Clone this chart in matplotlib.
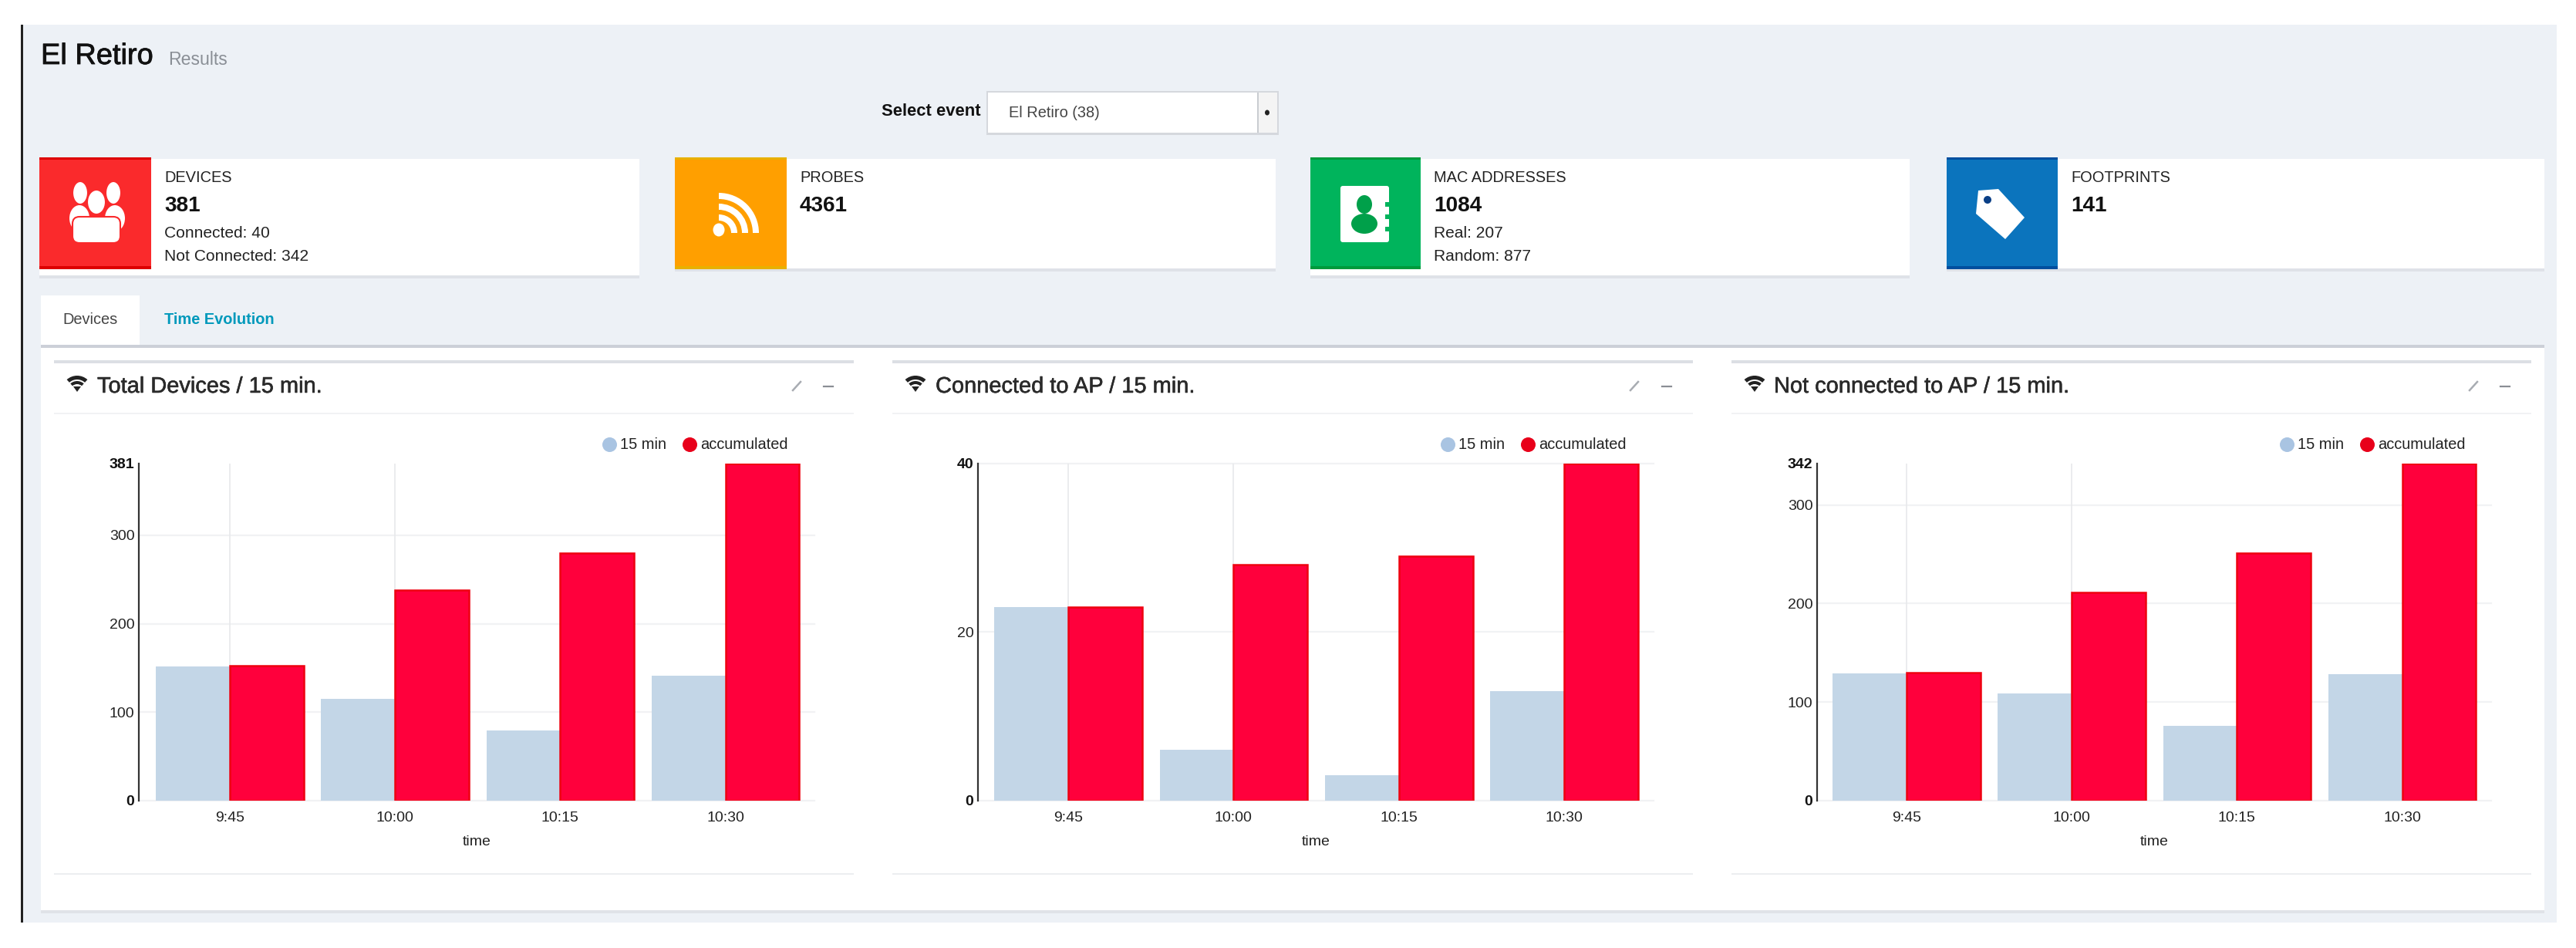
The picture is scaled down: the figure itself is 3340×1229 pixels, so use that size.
#!/usr/bin/env python3
import matplotlib
matplotlib.use("Agg")
import matplotlib.pyplot as plt
import matplotlib.patheffects as pe
from matplotlib.lines import Line2D
from matplotlib.patches import Rectangle, Ellipse, Wedge, Polygon, FancyBboxPatch

plt.rcParams["font.family"] = ["Liberation Sans", "DejaVu Sans"]

W, H, DPI = 3340, 1229, 100

# values
times = ["9:45", "10:00", "10:15", "10:30"]
total_15min = [152, 115, 79, 141]
total_accum = [153, 238, 280, 381]
connected_15min = [23, 6, 3, 13]
connected_accum = [23, 28, 29, 40]
notconn_15min = [129, 109, 76, 128]
notconn_accum = [130, 211, 251, 342]

total_ticks = [0, 100, 200, 300, 381]
connected_ticks = [0, 20, 40]
notconn_ticks = [0, 100, 200, 300, 342]

BG = "#edf1f6"
BLUE = "#c3d6e7"
RED = "#ff003c"
RED_EDGE = "#ee0010"
TXT = "#222222"


def pt(px_size):
    return px_size * 72 / DPI


fig = plt.figure(figsize=(W / DPI, H / DPI), dpi=DPI, facecolor="white")

# page furniture is drawn in pixel coordinates on a background axes
bg = fig.add_axes([0, 0, 1, 1], zorder=0)
bg.set_xlim(0, W)
bg.set_ylim(H, 0)
bg.axis("off")


def box(x0, y0, x1, y1, color, z=1):
    bg.add_patch(Rectangle((x0, y0), x1 - x0, y1 - y0, fc=color, ec="none", zorder=z))


def label(x, y, s, size, heavy=0, **kw):
    kw.setdefault("color", TXT)
    kw.setdefault("va", "center")
    kw.setdefault("ha", "left")
    t = bg.text(x, y, s, fontsize=pt(size), zorder=6, **kw)
    if heavy:
        # the screenshot is soft and its type looks heavier than the plain face
        t.set_path_effects([pe.withStroke(linewidth=heavy, foreground=kw["color"])])
    return t


box(30, 32, 3315, 1196, BG)
box(27, 32, 30, 1196, "#222222")

label(53, 73, "El Retiro", 38, heavy=0.6, color="#111111")
label(218, 77, "Results", 23, color="#8a8f96")

label(1143, 145, "Select event", 22, fontweight="bold", color="#111111")
box(1279, 118, 1658, 175, "#d5d8dd")
box(1281, 120, 1656, 172, "white", z=2)
box(1630, 120, 1656, 172, "#f4f4f4", z=3)
box(1630, 120, 1632, 172, "#c9ccd1", z=3)
bg.add_patch(Ellipse((1643, 146), 6, 7, fc="#222222", ec="none", zorder=4))
label(1308, 146, "El Retiro (38)", 20, color="#444444")

# stat cards: x0, icon x1, x1, bottom, colour, edge, texts
cards = [
    (51, 196, 829, 357, "#fa2a2c", "#dd0000", "DEVICES", "381", ["Connected: 40", "Not Connected: 342"]),
    (875, 1020, 1654, 348, "#ff9f00", "#e8b000", "PROBES", "4361", []),
    (1699, 1842, 2476, 357, "#00b45c", "#009a3c", "MAC ADDRESSES", "1084", ["Real: 207", "Random: 877"]),
    (2524, 2668, 3299, 348, "#0b74bd", "#004f9f", "FOOTPRINTS", "141", []),
]
for x0, xi, x1, yb, col, edge, name, big, extra in cards:
    box(x0, yb, x1, yb + 4, "#dfe2e8")
    box(x0, 206, x1, yb, "white", z=2)
    box(x0, 206, xi, 348, col, z=3)
    box(x0, 345, xi, 349, edge, z=3)
    box(x0, 204, xi, 207, edge, z=3)
    label(xi + 17, 230, name, 20, color="#222222")
    label(xi + 17, 267, big, 28, fontweight="bold", color="#111111")
    for row, s in zip((303, 332), extra):
        label(xi + 17, row, s, 21, color="#222222")

# group icon
for cx, cy in [(103, 283), (149, 283)]:
    bg.add_patch(Ellipse((cx, cy), 26, 34, fc="white", ec="none", zorder=4))
for cx, cy, rw, rh in [(104, 250, 20, 30), (147, 250, 20, 30), (125, 262, 24, 32)]:
    bg.add_patch(Ellipse((cx, cy), rw, rh, fc="white", ec="#fa2a2c", lw=1.5, zorder=4))
bg.add_patch(FancyBboxPatch((103, 290), 44, 16, boxstyle="round,pad=9", fc="white", ec="#fa2a2c", lw=1.5, zorder=5))

# rss icon
bg.add_patch(Ellipse((932, 298), 15, 17, fc="white", ec="none", zorder=4))
for r, w in [(24, 8), (38, 8), (52, 8)]:
    bg.add_patch(Wedge((932, 302), r, 270, 360, width=w, fc="white", ec="none", zorder=4))

# address book icon
bg.add_patch(FancyBboxPatch((1741, 244), 57, 67, boxstyle="round,pad=3", fc="white", ec="none", zorder=4))
for ny in (262, 278, 294):
    box(1796, ny, 1803, ny + 6, "#00b45c", z=5)
bg.add_patch(Ellipse((1769, 265), 20, 24, fc="#00a04a", ec="none", zorder=5))
bg.add_patch(Ellipse((1769, 290), 34, 26, fc="#00a04a", ec="none", zorder=5))

# tag icon
bg.add_patch(Polygon([(2565, 247), (2591, 245), (2625, 282), (2600, 310), (2562, 277)], fc="white", ec="none", zorder=4))
bg.add_patch(Ellipse((2577, 259), 10, 10, fc="#0a3f86", ec="none", zorder=5))

# tabs and the white sheet below them
box(53, 383, 181, 448, "white")
label(117, 415, "Devices", 20, ha="center", color="#444444")
label(213, 415, "Time Evolution", 20, color="#0099bb", fontweight="bold")
box(53, 451, 3299, 1180, "white")
box(53, 447, 3299, 451, "#ccd0d8", z=2)
box(53, 1180, 3299, 1184, "#e0e3e8")


def wifi(cx, cy):
    for r, w in [(20, 5), (13, 4)]:
        bg.add_patch(Wedge((cx, cy + 9), r, 228, 312, width=w, fc="#222222", ec="none", zorder=5))
    bg.add_patch(Polygon([(cx - 5, cy + 3), (cx + 5, cy + 3), (cx, cy + 10)], fc="#222222", ec="none", zorder=5))


panels = [
    dict(title="Total Devices / 15 min.", blue=total_15min, red=total_accum, ticks=total_ticks,
         x0=70, x1=1107, icon=100, tx=126, ax0=180, ax1=1056, c0=298, step=214.2,
         leg=780, exp=1033, mn=1074, top_grid=False),
    dict(title="Connected to AP / 15 min.", blue=connected_15min, red=connected_accum, ticks=connected_ticks,
         x0=1157, x1=2195, icon=1187, tx=1213, ax0=1268, ax1=2144, c0=1385, step=214.4,
         leg=1867, exp=2119, mn=2161, top_grid=True),
    dict(title="Not connected to AP / 15 min.", blue=notconn_15min, red=notconn_accum, ticks=notconn_ticks,
         x0=2245, x1=3282, icon=2275, tx=2300, ax0=2356, ax1=3230, c0=2472, step=214.2,
         leg=2955, exp=3207, mn=3248, top_grid=False),
]

AX_TOP, AX_BOTTOM = 601, 1038
BAR_W = 0.447

for p in panels:
    box(p["x0"], 467, p["x1"], 471, "#dcdfe4", z=2)
    box(p["x0"], 535, p["x1"], 537, "#f1f2f4", z=2)
    box(p["x0"], 1132, p["x1"], 1134, "#eceef0", z=2)
    wifi(p["icon"], 498)
    label(p["tx"], 501, p["title"], 29, heavy=0.4, color="#2a2a2a")
    # expand and minimise buttons
    bg.plot([p["exp"] - 5, p["exp"] + 5], [506, 495], color="#a8acb2", lw=1.8, zorder=5)
    bg.plot([p["mn"] - 6, p["mn"] + 6], [501, 501], color="#8a8e94", lw=1.6, zorder=5)

    ax = fig.add_axes([p["ax0"] / W, 1 - AX_BOTTOM / H, (p["ax1"] - p["ax0"]) / W, (AX_BOTTOM - AX_TOP) / H], zorder=2)
    ax.patch.set_alpha(0)
    x = range(len(times))
    ax.bar([i - BAR_W / 2 for i in x], p["blue"], BAR_W, color=BLUE, label="15 min", zorder=3)
    ax.bar([i + BAR_W / 2 for i in x], p["red"], BAR_W, color=RED, edgecolor=RED_EDGE, lw=1.8, label="accumulated", zorder=4)

    ax.set_xlim((p["ax0"] - p["c0"]) / p["step"], (p["ax1"] - p["c0"]) / p["step"])
    ax.set_ylim(0, p["ticks"][-1])
    ax.set_xticks(list(x))
    ax.set_xticklabels(times)
    ax.set_yticks(p["ticks"])
    ax.tick_params(axis="both", length=0, labelsize=pt(19.5), labelcolor="#222222")
    ax.tick_params(axis="x", pad=10)
    ax.tick_params(axis="y", pad=4)
    ax.set_xlabel("time", fontsize=pt(19.5), color="#222222", labelpad=10)
    for lab, v in zip(ax.get_yticklabels(), p["ticks"]):
        if v == 0 or v == p["ticks"][-1]:
            lab.set_fontweight("bold")
            lab.set_color("#111111")

    for v in p["ticks"]:
        if v == p["ticks"][-1] and not p["top_grid"]:
            continue
        ax.axhline(v, color="#f1f2f4", lw=1.6, zorder=1, clip_on=False)
    # only the first two vertical grid lines show in the screenshot
    for i in list(x)[:2]:
        ax.axvline(i, color="#e8e9eb", lw=1.2, zorder=1)

    for side in ("top", "right", "bottom"):
        ax.spines[side].set_visible(False)
    ax.spines["left"].set_color("#333333")
    ax.spines["left"].set_linewidth(1.6)

    handles = [
        Line2D([], [], ls="none", marker="o", ms=pt(19), mfc="#a9c4e2", mec="none", label="15 min"),
        Line2D([], [], ls="none", marker="o", ms=pt(19), mfc="#e8001a", mec="none", label="accumulated"),
    ]
    ax.legend(handles=handles, loc="center left", bbox_to_anchor=(p["leg"], 577), bbox_transform=bg.transData,
              ncol=2, frameon=False, borderpad=0, borderaxespad=0, fontsize=pt(20), handlelength=1.0,
              handletextpad=0.2, columnspacing=1.0, labelcolor="#222222")

fig.savefig("out.png", dpi=DPI, facecolor="white")
